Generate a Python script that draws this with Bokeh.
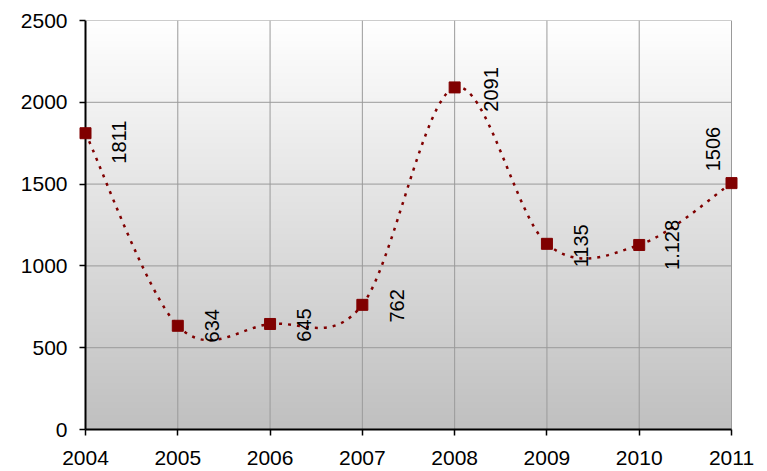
import numpy as np
from bokeh.plotting import figure
from bokeh.models import ColumnDataSource, FixedTicker
from bokeh.core.properties import value
from bokeh.embed import file_html
from bokeh.resources import INLINE

# ---- data ----
years = [2004, 2005, 2006, 2007, 2008, 2009, 2010, 2011]
values = [1811, 634, 645, 762, 2091, 1135, 1128, 1506]
labels = ["1811", "634", "645", "762", "2091", "1135", "1.128", "1506"]
y_ticks = [0, 500, 1000, 1500, 2000, 2500]

# ---- style ----
RED = "#800000"
GRID = "#9a9a9a"
FONT = "Liberation Sans"
label_dx = [33, 34, 34, 35, 36, 34, 33, -19]
label_dy = [9, 0, 1, 1, 2, 2, 0, -34]

PAD_PX = 8          # room so end markers are not clipped
AREA_PX = 646       # pixel width of the 2004..2011 span
pad = PAD_PX / AREA_PX * (years[-1] - years[0])

p = figure(width=767, height=471,
           x_range=(years[0] - pad, years[-1] + pad), y_range=(0, 2500),
           output_backend="svg", toolbar_location=None,
           min_border_left=85 - PAD_PX, min_border_right=36 - PAD_PX,
           min_border_top=20, min_border_bottom=42)
p.background_fill_color = "white"
p.border_fill_color = "white"
p.outline_line_color = None
p.xgrid.visible = False
p.ygrid.visible = False

# background gradient (white -> gray)
n = 256
t = np.linspace(0, 1, n)  # bottom -> top
g = (192 + 63 * t).astype(np.uint32)
img = np.empty((n, 1), dtype=np.uint32)
view = img.view(dtype=np.uint8).reshape((n, 1, 4))
view[:, 0, 0] = g
view[:, 0, 1] = g
view[:, 0, 2] = g
view[:, 0, 3] = 255
p.image_rgba(image=[img], x=years[0], y=y_ticks[0], dw=years[-1] - years[0],
             dh=y_ticks[-1] - y_ticks[0], level="image")

# grid lines (only inside the 2004..2011 area)
p.segment(x0=[years[0]] * len(y_ticks), x1=[years[-1]] * len(y_ticks),
          y0=y_ticks, y1=y_ticks, line_color=GRID, line_width=1, level="underlay")
p.segment(x0=years, x1=years, y0=[y_ticks[0]] * len(years),
          y1=[y_ticks[-1]] * len(years), line_color=GRID, line_width=1,
          level="underlay")

# axes
p.xaxis.ticker = FixedTicker(ticks=years)
p.yaxis.ticker = FixedTicker(ticks=y_ticks)
p.xaxis.bounds = (years[0], years[-1])
for ax in (p.xaxis, p.yaxis):
    ax.axis_line_color = "black"
    ax.axis_line_width = 2
    ax.major_tick_line_color = "black"
    ax.major_tick_line_width = 1.5
    ax.major_tick_out = 6
    ax.major_tick_in = 0
    ax.minor_tick_line_color = None
    ax.major_label_text_font = FONT
    ax.major_label_text_font_size = "21px"
    ax.major_label_text_color = "black"
p.xaxis.major_label_standoff = 15
# y axis sits at the frame edge; its ticks reach in to the 2004 line
p.yaxis.axis_line_color = None
p.yaxis.major_tick_in = PAD_PX
p.yaxis.major_tick_out = -2
p.yaxis.major_label_standoff = 10

# the vertical black axis line at 2004
p.segment(x0=[years[0]], x1=[years[0]], y0=[y_ticks[0]], y1=[y_ticks[-1]],
          line_color="black", line_width=2)

# smoothed line via bezier segments (Catmull-Rom style control points)
xs = np.array(years, dtype=float)
ys = np.array(values, dtype=float)
N = len(xs)
prev_i = np.clip(np.arange(N) - 1, 0, N - 1)
next_i = np.clip(np.arange(N) + 1, 0, N - 1)
tx = (xs[next_i] - xs[prev_i]) / 6.0
ty = (ys[next_i] - ys[prev_i]) / 6.0
bez = ColumnDataSource(dict(
    x0=xs[:-1], y0=ys[:-1], x1=xs[1:], y1=ys[1:],
    cx0=xs[:-1] + tx[:-1], cy0=ys[:-1] + ty[:-1],
    cx1=xs[1:] - tx[1:], cy1=ys[1:] - ty[1:]))
p.bezier(x0="x0", y0="y0", x1="x1", y1="y1", cx0="cx0", cy0="cy0",
         cx1="cx1", cy1="cy1", source=bez, line_color=RED, line_width=2.5,
         line_dash="3 6")

# markers
p.scatter(years, values, marker="square", size=11, fill_color=RED,
          line_color=RED)

# data labels
src = ColumnDataSource(dict(x=years, y=values, t=labels, dx=label_dx, dy=label_dy))
p.text(x="x", y="y", text="t", source=src, x_offset="dx", y_offset="dy",
       angle=np.pi / 2, text_align="center", text_baseline="middle",
       text_font=value(FONT), text_font_size="20px", text_color="black")

open("out.html", "w").write(file_html(p, INLINE))
